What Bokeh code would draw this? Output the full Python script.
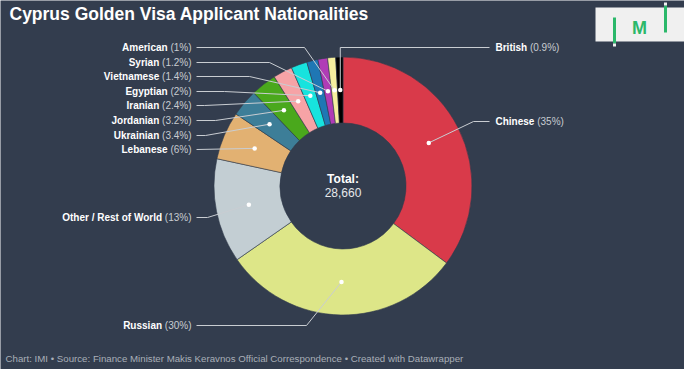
import math
from bokeh.plotting import figure
from bokeh.models import Range1d
from bokeh.core.properties import value
from bokeh.embed import file_html
from bokeh.resources import INLINE

# ---------------- data ----------------
nationalities = ["Chinese", "Russian", "Other / Rest of World", "Lebanese", "Ukrainian",
                 "Jordanian", "Iranian", "Egyptian", "Vietnamese", "Syrian", "American", "British"]
shares = [35, 30, 13, 6, 3.4, 3.2, 2.4, 2, 1.4, 1.2, 1, 0.9]
pct_labels = ["35%", "30%", "13%", "6%", "3.4%", "3.2%", "2.4%", "2%", "1.4%", "1.2%", "1%", "0.9%"]
total_label = "28,660"
slice_colors = ["#d93a4a", "#dde688", "#c3ced3", "#e2b172", "#3d7e98", "#4aa81c",
                "#f6a3a6", "#17e3de", "#1f77b4", "#b03cb6", "#f5ef9e", "#000000"]

title = "Cyprus Golden Visa Applicant Nationalities"
footer = "Chart: IMI \u2022 Source: Finance Minister Makis Keravnos Official Correspondence \u2022 Created with Datawrapper"

# ---------------- layout (pixel coords of the 700x385 page, y down) ----------------
BG = "#333d4e"
W, H = 700, 385
CX, CY = 350.5, 193.5
R_IN, R_OUT = 63, 129
R_DOT = 96
label_side = ["right", "left", "left", "left", "left", "left", "left", "left", "left", "left", "left", "right"]
label_y = [129, 333, 225, 157, 143, 128, 113, 99, 84, 70, 55, 55]
elbow_x = [481, 314, 215, None, 213, 223, 212, 232, 257, 277, 312, "v"]
LEFT_END = 199
LEFT_LINE = 204
RIGHT_START = 503
RIGHT_LINE = 497
FS = 10

REG = {' ': 278, '(': 333, ')': 333, '%': 889, '.': 278, '/': 278}
for d in "0123456789":
    REG[d] = 556
BOLD = {' ': 278, '/': 278, 'A': 722, 'B': 722, 'C': 722, 'E': 667, 'I': 278, 'J': 556, 'L': 611,
        'O': 778, 'R': 722, 'S': 667, 'U': 722, 'V': 667, 'W': 944,
        'a': 556, 'b': 611, 'c': 556, 'd': 611, 'e': 556, 'f': 333, 'g': 611, 'h': 611, 'i': 278,
        'j': 278, 'k': 556, 'l': 278, 'm': 889, 'n': 611, 'o': 611, 'p': 611, 'r': 389, 's': 556,
        't': 333, 'u': 611, 'v': 556, 'w': 778, 'y': 556, 'z': 500}


def wreg(s):
    return sum(REG.get(c, 556) for c in s) / 1000.0 * FS


def wbold(s):
    return sum(BOLD.get(c, 600) for c in s) / 1000.0 * FS


def Y(y):
    return H - y


p = figure(width=W - 16, height=H - 16, output_backend="svg", toolbar_location=None,
           x_range=Range1d(8, W - 8), y_range=Range1d(8, H - 8),
           x_axis_type=None, y_axis_type=None, min_border=0,
           background_fill_color=BG, border_fill_color=BG)
p.outline_line_color = None
p.xgrid.visible = False
p.ygrid.visible = False

tot = sum(shares)
cum = 0.0
starts, ends, dots = [], [], []
for s in shares:
    a0 = cum / tot
    a1 = (cum + s) / tot
    cum += s
    starts.append(math.pi / 2 - a1 * 2 * math.pi)
    ends.append(math.pi / 2 - a0 * 2 * math.pi)
    am = (a0 + a1) / 2 * 2 * math.pi
    dots.append((CX + R_DOT * math.sin(am), CY - R_DOT * math.cos(am)))

p.annular_wedge(x=[CX] * len(shares), y=[Y(CY)] * len(shares), inner_radius=R_IN, outer_radius=R_OUT,
                start_angle=starts, end_angle=ends, fill_color=slice_colors,
                line_color=BG, line_width=0.6)

# leader lines
xs, ys = [], []
for i, name in enumerate(nationalities):
    dx, dy = dots[i]
    ly = label_y[i]
    if label_side[i] == "left":
        pts = [(LEFT_LINE, ly)]
        if elbow_x[i] is not None:
            pts.append((elbow_x[i], ly))
        pts.append((dx, dy))
    else:
        pts = [(RIGHT_LINE, ly)]
        if elbow_x[i] == "v":
            pts.append((dx, ly))
        else:
            pts.append((elbow_x[i], ly))
        pts.append((dx, dy))
    xs.append([q[0] for q in pts])
    ys.append([Y(q[1]) for q in pts])
p.multi_line(xs=xs, ys=ys, line_color="#c9cdd2", line_width=1)
p.scatter(x=[d[0] for d in dots], y=[Y(d[1]) for d in dots], size=4.5,
          fill_color="white", line_color=None)

# labels
nx, ny, na, px_, py_, pt, pa = [], [], [], [], [], [], []
for i, name in enumerate(nationalities):
    ptxt = "(" + pct_labels[i] + ")"
    ly = Y(label_y[i])
    if label_side[i] == "left":
        px_.append(LEFT_END); pa.append("right")
        nx.append(LEFT_END - wreg(" " + ptxt)); na.append("right")
    else:
        nx.append(RIGHT_START); na.append("left")
        px_.append(RIGHT_START + wbold(name) + wreg(" ")); pa.append("left")
    ny.append(ly); py_.append(ly); pt.append(ptxt)

p.text(x=nx, y=ny, text=nationalities, text_align=na, text_baseline="middle",
       text_font=value("Liberation Sans"), text_font_style="bold",
       text_font_size=f"{FS}px", text_color="#ffffff")
p.text(x=px_, y=py_, text=pt, text_align=pa, text_baseline="middle",
       text_font=value("Liberation Sans"), text_font_size=f"{FS}px", text_color="#c8ccd1")

# centre total
p.text(x=[CX], y=[Y(186)], text=["Total:"], text_align="center", text_baseline="middle",
       text_font=value("Liberation Sans"), text_font_style="bold", text_font_size="12px",
       text_color="#ffffff")
p.text(x=[CX], y=[Y(200)], text=[total_label], text_align="center", text_baseline="middle",
       text_font=value("Liberation Sans"), text_font_size="12px", text_color="#e6e8ea")

# title & footer
p.text(x=[17], y=[Y(21)], text=[title], text_align="left", text_baseline="middle",
       text_font=value("Liberation Sans"), text_font_style="bold", text_font_size="17.5px",
       text_color="#ffffff")
p.text(x=[13], y=[Y(366)], text=[footer], text_align="left", text_baseline="middle",
       text_font=value("Liberation Sans"), text_font_size="9.7px", text_color="#a9afb8")

# logo
GREEN = "#2bb86a"
p.quad(left=[603], right=[692], top=[Y(15)], bottom=[Y(49)], fill_color="#f0f0f0", line_color=None)
p.quad(left=[620.5, 671.5], right=[623.5, 674.5], top=[Y(25), Y(13)], bottom=[Y(51), Y(40)],
       fill_color=GREEN, line_color=None)
p.quad(left=[620.5, 671.5], right=[623.5, 674.5], top=[Y(51), Y(10)], bottom=[Y(54), Y(13)],
       fill_color="#f0f0f0", line_color=None)
p.text(x=[647], y=[Y(35)], text=["M"], text_align="center", text_baseline="middle",
       text_font=value("Liberation Sans"), text_font_style="bold", text_font_size="18px",
       text_color=GREEN)

open("out.html", "w").write(file_html(p, INLINE))
